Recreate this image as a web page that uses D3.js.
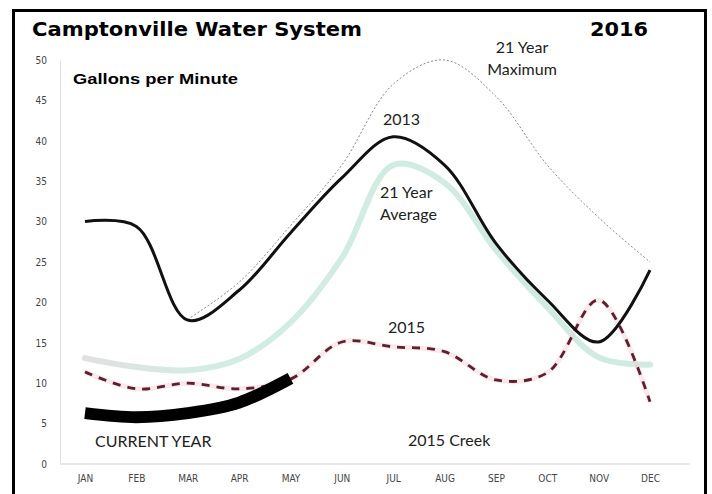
<!DOCTYPE html>
<meta charset="utf-8">
<style>
body { margin: 0; background: #fff; }
.tick text { font-family: "Liberation Sans Narrow", "DejaVu Sans Condensed", sans-serif; font-size: 10px; fill: #444; }
.lbl { font-family: Lato, "Open Sans", sans-serif; font-size: 16px; fill: #222; }
</style>
<body>
<script src="https://cdnjs.cloudflare.com/ajax/libs/d3/7.8.5/d3.min.js"></script>
<script>

// months along the bottom
var months = ["JAN","FEB","MAR","APR","MAY","JUN","JUL","AUG","SEP","OCT","NOV","DEC"];
var yTicks = [0,5,10,15,20,25,30,35,40,45,50];

// series (gallons per minute)
var max21   = [null, null, 17.9, 22.5, 29.5, 37, 47, 50, 45.5, 37, 30.5, 25];
var avg21   = [13.1, 12, 11.6, 13, 17.5, 25.5, 37, 34.8, 26.5, 19.4, 13.2, 12.3];
var yr2013  = [30, 29.4, 17.8, 21.5, 28.6, 35.4, 40.5, 37, 27.3, 20.3, 15.1, 24];
var yr2015  = [11.4, 9.3, 10, 9.3, 10.5, 15.1, 14.5, 13.9, 10.4, 11.3, 20.3, 7.7];
var current = [6.3, 5.8, 6.3, 7.6, 10.6];

var width = 712, height = 494;

var svg = d3.select("body").append("svg")
    .attr("width", width)
    .attr("height", height);

// frame
svg.append("rect")
    .attr("x", 13.5).attr("y", 10.5)
    .attr("width", 692).attr("height", 492)
    .attr("fill", "none")
    .attr("stroke", "#000")
    .attr("stroke-width", 3);

var x = d3.scalePoint().domain(months).range([85, 650]);
var y = d3.scaleLinear().domain([0, 50]).range([464, 60]);

// axes
var yAxis = svg.append("g")
    .attr("transform", "translate(60,0)")
    .call(d3.axisLeft(y).tickValues(yTicks).tickSize(0).tickPadding(13));
yAxis.select(".domain").attr("stroke", "#e2e2e2");

var xAxis = svg.append("g")
    .attr("transform", "translate(0,464)")
    .call(d3.axisBottom(x).tickSize(0).tickPadding(11));
xAxis.select(".domain").remove();
svg.append("line")
    .attr("x1", 60).attr("x2", 690)
    .attr("y1", 464).attr("y2", 464)
    .attr("stroke", "#e8e8e8").attr("stroke-width", 2);

function lineFor(curve) {
  return d3.line()
      .defined(function(d) { return d != null; })
      .x(function(d, i) { return x(months[i]); })
      .y(function(d) { return y(d); })
      .curve(curve);
}
var smooth = lineFor(d3.curveCatmullRom.alpha(0.5));

// gradient for the average band: grey in winter, mint later
var grad = svg.append("defs").append("linearGradient")
    .attr("id", "avgGrad")
    .attr("gradientUnits", "userSpaceOnUse")
    .attr("x1", x("JAN")).attr("x2", x("DEC"))
    .attr("y1", 0).attr("y2", 0);
grad.append("stop").attr("offset", "0%").attr("stop-color", "#e0e0e0");
grad.append("stop").attr("offset", "22%").attr("stop-color", "#d3ede3");
grad.append("stop").attr("offset", "100%").attr("stop-color", "#cfeae0");

// 21 year average
svg.append("path")
    .datum(avg21)
    .attr("fill", "none")
    .attr("stroke", "url(#avgGrad)")
    .attr("stroke-width", 6)
    .attr("stroke-linecap", "round")
    .attr("d", smooth);

// 21 year maximum
svg.append("path")
    .datum(max21)
    .attr("fill", "none")
    .attr("stroke", "#888")
    .attr("stroke-width", 1)
    .attr("stroke-dasharray", "2,2")
    .attr("d", smooth);

// 2015
svg.append("path")
    .datum(yr2015)
    .attr("fill", "none")
    .attr("stroke", "#f3c9d0")
    .attr("stroke-width", 5)
    .attr("stroke-opacity", 0.4)
    .attr("d", smooth);
svg.append("path")
    .datum(yr2015)
    .attr("fill", "none")
    .attr("stroke", "#5e1f2e")
    .attr("stroke-width", 2.8)
    .attr("stroke-dasharray", "8,7")
    .attr("d", smooth);

// 2013
svg.append("path")
    .datum(yr2013)
    .attr("fill", "none")
    .attr("stroke", "#111")
    .attr("stroke-width", 3)
    .attr("d", smooth);

// current year
svg.append("path")
    .datum(current)
    .attr("fill", "none")
    .attr("stroke", "#000")
    .attr("stroke-width", 12)
    .attr("d", lineFor(d3.curveMonotoneX));

// titles
svg.append("text")
    .attr("x", 32).attr("y", 36)
    .attr("font-family", "'DejaVu Sans', sans-serif")
    .attr("font-weight", 900)
    .attr("font-size", 20)
    .attr("textLength", 330)
    .attr("lengthAdjust", "spacingAndGlyphs")
    .text("Camptonville Water System");
svg.append("text")
    .attr("x", 590).attr("y", 36)
    .attr("font-family", "'DejaVu Sans', sans-serif")
    .attr("font-weight", 900)
    .attr("font-size", 20)
    .attr("textLength", 58)
    .attr("lengthAdjust", "spacingAndGlyphs")
    .text("2016");
svg.append("text")
    .attr("x", 73).attr("y", 84)
    .attr("font-family", "'Liberation Sans', Arial, sans-serif")
    .attr("font-weight", "bold")
    .attr("font-size", 15)
    .attr("textLength", 165)
    .attr("lengthAdjust", "spacingAndGlyphs")
    .text("Gallons per Minute");

// series labels
var labels = [
  {t: "21 Year", x: 522, y: 53, a: "middle"},
  {t: "Maximum", x: 522, y: 75, a: "middle"},
  {t: "2013", x: 383, y: 125, a: "start"},
  {t: "21 Year", x: 380, y: 198, a: "start"},
  {t: "Average", x: 380, y: 220, a: "start"},
  {t: "2015", x: 388, y: 333, a: "start"},
  {t: "CURRENT YEAR", x: 95, y: 447, a: "start"},
  {t: "2015 Creek", x: 408, y: 446, a: "start"}
];
svg.selectAll(".lbl")
    .data(labels)
  .enter().append("text")
    .attr("class", "lbl")
    .attr("x", function(d) { return d.x; })
    .attr("y", function(d) { return d.y; })
    .attr("text-anchor", function(d) { return d.a; })
    .text(function(d) { return d.t; });

</script>
</body>
